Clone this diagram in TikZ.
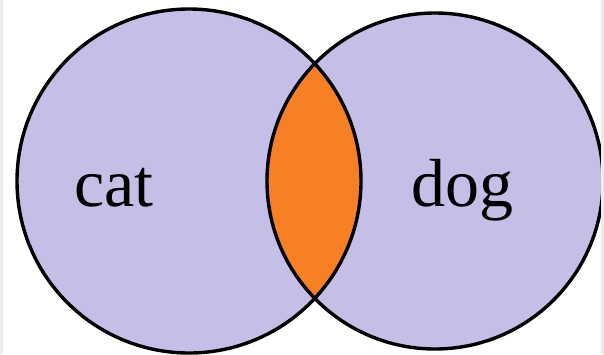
\documentclass[tikz,border=0pt]{standalone}
\usepackage{fontspec}
\setmainfont{Liberation Serif}
\definecolor{lav}{RGB}{197,190,231}
\definecolor{lensorange}{RGB}{247,128,38}
\definecolor{edgegray}{RGB}{236,236,236}
\tikzset{
  setcircle/.style={fill=lav},
  setedge/.style={draw=black, line width=3.4pt},
  setlabel/.style={font=\fontsize{68}{68}\selectfont, anchor=base, inner sep=0pt}
}
\begin{document}
\begin{tikzpicture}[x=1pt,y=-1pt]
\useasboundingbox (0,0) rectangle (604,354);
\fill[white] (0,0) rectangle (604,354);
\begin{scope}
\clip (3,0) rectangle (601,354);
\coordinate (cl) at (189,181);
\coordinate (cr) at (435,181);
\fill[setcircle] (cl) circle[radius=172];
\fill[setcircle] (cr) circle[radius=168];
\begin{scope}
\clip (cl) circle[radius=172];
\fill[lensorange] (cr) circle[radius=168];
\end{scope}
\draw[setedge] (cl) circle[radius=172];
\draw[setedge] (cr) circle[radius=168];
\end{scope}
\fill[edgegray] (0,0) rectangle (3,354);
\fill[edgegray] (601,0) rectangle (604,354);
\node[setlabel] (cat) at (114,206) {cat};
\node[setlabel] (dog) at (462,206) {dog};
\end{tikzpicture}
\end{document}
